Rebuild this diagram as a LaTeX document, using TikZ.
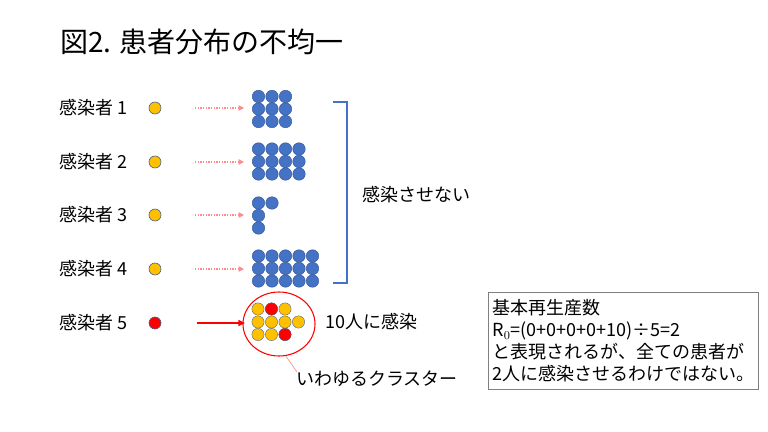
\documentclass[tikz,border=0pt]{standalone}
\usepackage{fontspec}
\setmainfont{Noto Sans CJK JP}
\usetikzlibrary{arrows.meta,shapes.geometric}
\definecolor{dotblue}{RGB}{68,114,196}
\definecolor{dotedge}{RGB}{47,82,143}
\definecolor{dotyellow}{RGB}{255,192,0}
\definecolor{pinkline}{RGB}{255,140,140}
\tikzset{
    lbl/.style={anchor=west, inner sep=0pt, font=\fontsize{13.5}{16}\selectfont},
    patient/.style={circle, draw=dotedge!70!gray, line width=0.5pt, minimum size=9pt, inner sep=0pt},
    bluedot/.style={fill=dotblue, draw=dotedge, line width=0.3pt},
    yellowdot/.style={fill=dotyellow, draw=dotedge!60!gray, line width=0.3pt},
    reddot/.style={fill=red, draw=dotedge!60!gray, line width=0.3pt},
    pinkarrow/.style={pinkline, line width=0.8pt, dash pattern=on 1pt off 1pt, -{Triangle[length=4pt,width=4pt]}},
}
\begin{document}
\begin{tikzpicture}[x=0.75pt, y=-0.75pt]
            \useasboundingbox (0,0) rectangle (768,432);
            \node[anchor=west, inner sep=0pt, font=\fontsize{21}{24}\selectfont] (title) at (60, 42) {図2. 患者分布の不均一};
            % infected persons
            \node[lbl] (l1) at (59, 108) {感染者 1};
            \node[lbl] (l2) at (59, 162) {感染者 2};
            \node[lbl] (l3) at (59, 215) {感染者 3};
            \node[lbl] (l4) at (59, 269) {感染者 4};
            \node[lbl] (l5) at (59, 323) {感染者 5};
            \node[patient, fill=dotyellow] (p1) at (155, 108) {};
            \node[patient, fill=dotyellow] (p2) at (155, 162) {};
            \node[patient, fill=dotyellow] (p3) at (155, 215) {};
            \node[patient, fill=dotyellow] (p4) at (155, 269) {};
            \node[patient, fill=red] (p5) at (155, 323) {};
            % arrows
            \coordinate (s1) at (195, 108); \coordinate (e1) at (244, 108);
            \coordinate (s2) at (195, 162); \coordinate (e2) at (244, 162);
            \coordinate (s3) at (195, 215); \coordinate (e3) at (244, 215);
            \coordinate (s4) at (195, 269); \coordinate (e4) at (244, 269);
            \coordinate (s5) at (197, 323); \coordinate (e5) at (245, 323);
            \path[pinkarrow] (s1) edge (e1) (s2) edge (e2) (s3) edge (e3) (s4) edge (e4);
            \draw[red, line width=1pt, -{Triangle[length=5pt,width=4.5pt]}] (s5) -- (e5);
            % infected groups
            \foreach \c in {0,1,2} \foreach \r in {0,1,2}
                \filldraw[bluedot] ({258.5+13.5*\c}, {96.5+12.5*\r}) circle[radius=4.7pt];
            \foreach \c in {0,1,2,3} \foreach \r in {0,1,2}
                \filldraw[bluedot] ({258.5+13.5*\c}, {149+12.5*\r}) circle[radius=4.7pt];
            \foreach \r in {0,1,2}
                \filldraw[bluedot] (258.5, {203+12.5*\r}) circle[radius=4.7pt];
            \filldraw[bluedot] (272, 203) circle[radius=4.7pt];
            \foreach \c in {0,1,2,3,4} \foreach \r in {0,1,2}
                \filldraw[bluedot] ({258.5+13.5*\c}, {256+12.5*\r}) circle[radius=4.7pt];
            % bracket
            \draw[dotblue, line width=1.2pt] (333, 102) -- (347, 102) -- (347, 283) -- (333, 283);
            \node[lbl] (none) at (362, 195) {感染させない};
            % cluster
            \foreach \c in {0,1,2} \filldraw[yellowdot] ({258+13.5*\c}, 309) circle[radius=4.6pt];
            \foreach \c in {0,1,2,3} \filldraw[yellowdot] ({258+13.5*\c}, 322) circle[radius=4.6pt];
            \foreach \c in {0,1,2} \filldraw[yellowdot] ({258+13.5*\c}, 334.5) circle[radius=4.6pt];
            \filldraw[reddot] (271.5, 309) circle[radius=4.6pt];
            \filldraw[reddot] (285, 334.5) circle[radius=4.6pt];
            \node[ellipse, draw=red, line width=0.8pt, minimum width=54pt, minimum height=48pt] (cluster) at (279, 324) {};
            \node[lbl] (ten) at (325, 322) {10人に感染};
            \node[lbl] (name) at (296, 379) {いわゆるクラスター};
            \coordinate (tip) at (297, 372);
            \draw[pinkline, line width=0.5pt] (cluster.-78) -- (tip);
            % note
            \node[anchor=north west, draw=gray, line width=0.6pt, inner sep=3pt, minimum width=195pt, minimum height=73pt,
                  align=left, font=\fontsize{13.5}{16.5}\selectfont] (note) at (488, 292)
                {基本再生産数\\R$_0$=(0+0+0+0+10)÷5=2\\と表現されるが、全ての患者が\\2人に感染させるわけではない。};
        \end{tikzpicture}
\end{document}
